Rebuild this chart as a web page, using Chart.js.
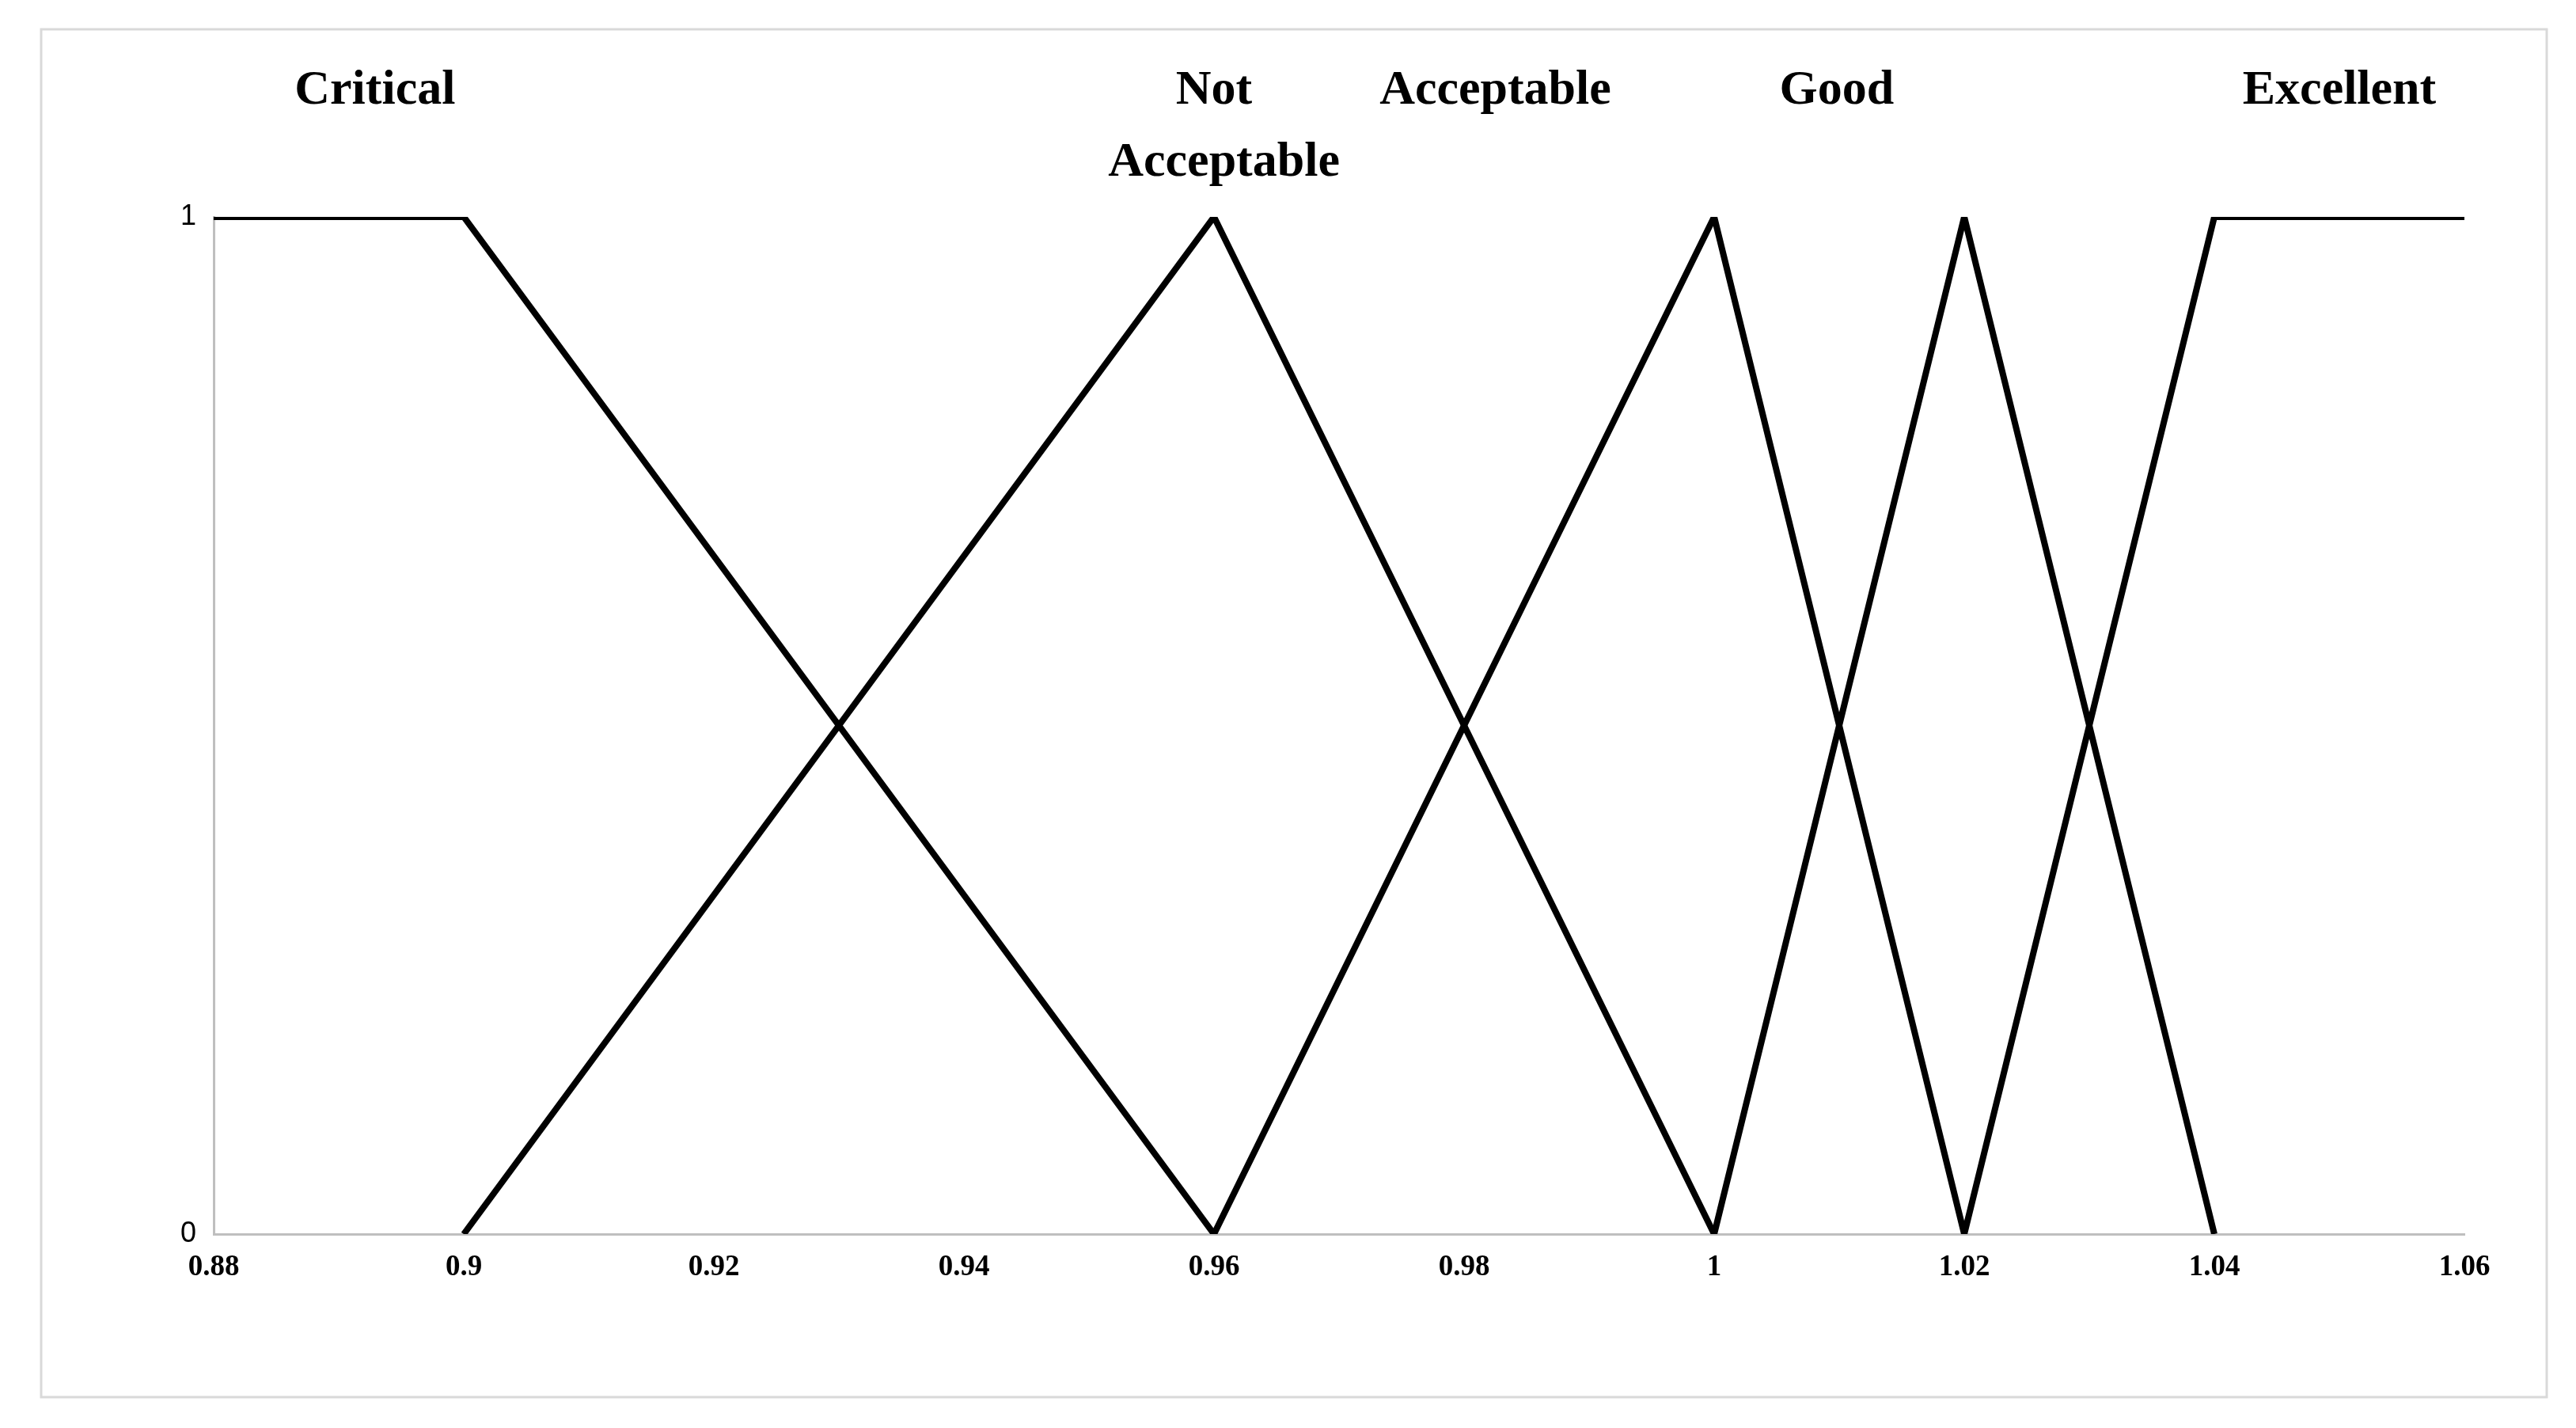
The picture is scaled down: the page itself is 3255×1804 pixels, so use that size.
<!DOCTYPE html>
<html><head><meta charset="utf-8">
<script src="https://cdn.jsdelivr.net/npm/chart.js@4"></script>
<style>html,body{margin:0;padding:0;background:#fff;}#wrap{width:3255px;height:1804px;}</style>
</head><body><div id="wrap"><canvas id="c"></canvas></div>
<script>
// membership functions
const critical = [{x:0.88,y:1},{x:0.9,y:1},{x:0.96,y:0}];
const notAcceptable = [{x:0.9,y:0},{x:0.96,y:1},{x:1.0,y:0}];
const acceptable = [{x:0.96,y:0},{x:1.0,y:1},{x:1.02,y:0}];
const good = [{x:1.0,y:0},{x:1.02,y:1},{x:1.04,y:0}];
const excellent = [{x:1.02,y:0},{x:1.04,y:1},{x:1.06,y:1}];

const labelTexts = ['Critical','Not','Acceptable','Acceptable','Good','Excellent'];
const labelX = [0.8929,0.96,0.9608,0.9825,1.0098,1.05];
const labelY = [1.124,1.124,1.053,1.124,1.124,1.124];

const frame = {
    id: 'frame',
    beforeDraw: (chart) => {
        const ctx = chart.ctx;
        ctx.save();
        ctx.strokeStyle = '#d9d9d9';
        ctx.lineWidth = 3;
        ctx.strokeRect(52, 37, 3166, 1728);
        ctx.restore();
    },
    afterDatasetsDraw: (chart) => {
        const { ctx, scales } = chart;
        ctx.save();
        ctx.font = 'bold 62px "Liberation Serif"';
        ctx.fillStyle = '#000';
        ctx.textAlign = 'center';
        ctx.textBaseline = 'middle';
        labelTexts.forEach((t, i) => {
            ctx.fillText(t, scales.x.getPixelForValue(labelX[i]), scales.y.getPixelForValue(labelY[i]));
        });
        ctx.restore();
    }
};

const mk = (d) => ({ data: d, borderColor: '#000', borderWidth: 8, pointRadius: 0, fill: false, tension: 0 });

new Chart(document.getElementById('c'), {
    type: 'line',
    data: { datasets: [mk(critical), mk(notAcceptable), mk(acceptable), mk(good), mk(excellent)] },
    options: {
        responsive: true, maintainAspectRatio: false, animation: false,
        layout: { padding: { top: 274, right: 141, left: 0, bottom: 0 } },
        plugins: { legend: { display: false }, tooltip: { enabled: false } },
        scales: {
            x: {
                type: 'linear', min: 0.88, max: 1.06,
                grid: { display: false, drawTicks: false },
                border: { color: '#bfbfbf', width: 3 },
                ticks: { stepSize: 0.02, color: '#000', padding: 20, font: { family: 'Liberation Serif', weight: 'bold', size: 37 },
                    callback: (v) => Number(v.toFixed(2)).toString() },
                afterFit: (s) => { s.height = 245; }
            },
            y: {
                min: 0, max: 1,
                grid: { display: false, drawTicks: false },
                border: { color: '#bfbfbf', width: 3 },
                ticks: { stepSize: 1, color: '#000', padding: 22, font: { family: 'Liberation Sans', size: 36 } },
                afterFit: (s) => { s.width = 270; }
            }
        }
    },
    plugins: [frame]
});
</script></body></html>
